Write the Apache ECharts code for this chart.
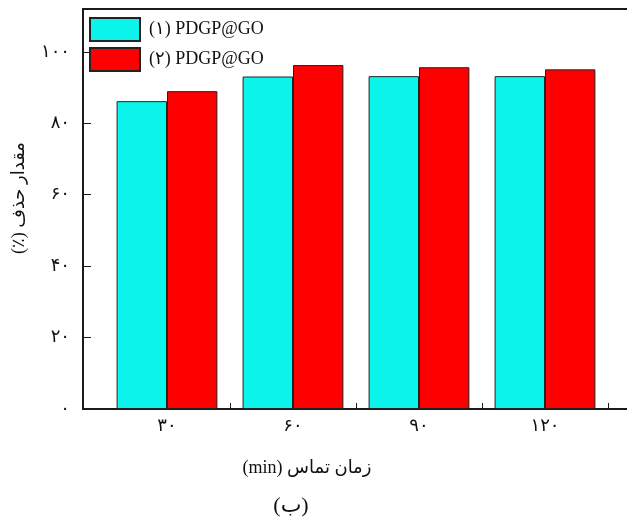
<!DOCTYPE html>
<html>
<head>
<meta charset="utf-8">
<script src="https://cdn.jsdelivr.net/npm/echarts@6/dist/echarts.min.js"></script>
<style>
html,body{margin:0;padding:0;background:#fff;}
#c{width:627px;height:522px;}
</style>
</head>
<body>
<div id="c"></div>
<script>
const contactTimes = [30, 60, 90, 120];
const categoryLabels = ['۳۰', '۶۰', '۹۰', '۱۲۰'];
const yTickValues = [0, 20, 40, 60, 80, 100];
const yTickLabels = ['۰', '۲۰', '۴۰', '۶۰', '۸۰', '۱۰۰'];
const seriesNames = ['(۱) PDGP@GO', '(۲) PDGP@GO'];
const removal1 = [86.2, 93.1, 93.2, 93.2];
const removal2 = [89.0, 96.3, 95.7, 95.1];
const yTitle = 'مقدار حذف (٪)';
const xTitle = 'زمان تماس (min)';
const caption = '(ب)';

const RLE = '\u202B', PDF = '\u202C';
const serif = "'Liberation Serif', 'DejaVu Serif', 'DejaVu Sans', serif";
const colors = ['#0bf5ec', '#ff0000'];

const chart = echarts.init(document.getElementById('c'), null, {renderer: 'canvas'});
const pxPerUnit = 4.2;
const grid1Left = 167;
const gridWidth = 600;
const x1Max = contactTimes[0] + (gridWidth - (grid1Left - 83)) / pxPerUnit;

chart.setOption({
  animation: false,
  backgroundColor: '#fff',
  grid: [
    {left: 83, top: 9, width: gridWidth, height: 400, outerBoundsMode: 'none', containLabel: false,
      show: true, borderColor: '#1a1a1a', borderWidth: 2, backgroundColor: 'transparent'},
    {left: grid1Left, top: 9, width: gridWidth - (grid1Left - 83), height: 400, outerBoundsMode: 'none', containLabel: false}
  ],
  xAxis: [
    {type: 'value', gridIndex: 0, min: 0, max: 1, show: false},
    {type: 'value', gridIndex: 1, min: contactTimes[0], max: x1Max, interval: 15,
      axisLine: {show: false}, splitLine: {show: false},
      axisTick: {show: true, inside: true, length: 6, lineStyle: {color: '#1a1a1a', width: 1}},
      axisLabel: {margin: 8, fontFamily: serif, fontSize: 18, color: '#111',
        formatter: v => { const i = contactTimes.indexOf(v); return i >= 0 ? categoryLabels[i] : ''; }}
    }
  ],
  yAxis: [
    {type: 'value', gridIndex: 0, min: 0, max: 112, interval: 20,
      axisLine: {show: true, lineStyle: {color: '#1a1a1a', width: 2}},
      splitLine: {show: false},
      axisTick: {show: true, inside: true, length: 8, lineStyle: {color: '#1a1a1a', width: 1}},
      axisLabel: {margin: 13, fontFamily: serif, fontSize: 18, color: '#111',
        formatter: v => { const i = yTickValues.indexOf(v); return i >= 0 ? yTickLabels[i] : ''; }}
    },
    {type: 'value', gridIndex: 1, min: 0, max: 112, show: false}
  ],
  legend: {
    orient: 'vertical', left: 89, top: 17, padding: 0, itemWidth: 50, itemHeight: 23, itemGap: 5,
    icon: 'rect',
    textStyle: {fontFamily: serif, fontSize: 18, color: '#111', padding: [0, 0, 0, 4]},
    data: seriesNames
  },
  series: [
    {name: seriesNames[0], type: 'bar', xAxisIndex: 1, yAxisIndex: 1, clip: false,
      barGap: '0%', barCategoryGap: '20%',
      itemStyle: {color: colors[0], borderColor: '#222', borderWidth: 1},
      data: contactTimes.map((t, i) => [t, removal1[i]])},
    {name: seriesNames[1], type: 'bar', xAxisIndex: 1, yAxisIndex: 1, clip: false,
      barGap: '0%', barCategoryGap: '20%',
      itemStyle: {color: colors[1], borderColor: '#222', borderWidth: 1},
      data: contactTimes.map((t, i) => [t, removal2[i]])}
  ],
  graphic: [
    {type: 'text', x: 19, y: 198, rotation: Math.PI / 2,
      style: {text: RLE + yTitle + PDF, fontFamily: serif, fontSize: 18, fill: '#111', align: 'center', verticalAlign: 'middle'}},
    {type: 'text', x: 307, y: 468,
      style: {text: RLE + xTitle + PDF, fontFamily: serif, fontSize: 18, fill: '#111', align: 'center', verticalAlign: 'middle'}},
    {type: 'text', x: 291, y: 506,
      style: {text: RLE + caption + PDF, fontFamily: serif, fontSize: 22, fill: '#111', align: 'center', verticalAlign: 'middle'}}
  ]
});
</script>
</body>
</html>
